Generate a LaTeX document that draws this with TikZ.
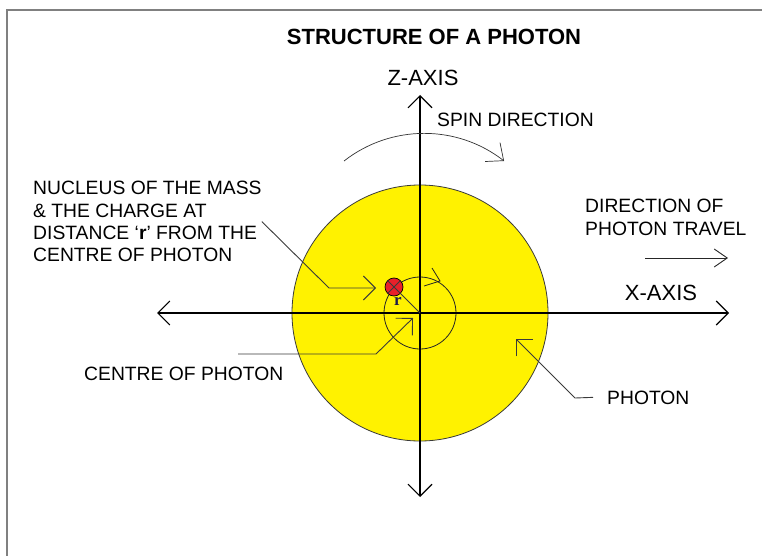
\documentclass[tikz,border=0pt]{standalone}
\usepackage{fontspec}
\setmainfont{Liberation Sans}
\newfontfamily\rfont{Liberation Serif}
\usetikzlibrary{arrows.meta}
\definecolor{photoncol}{HTML}{FFF200}
\definecolor{nuccol}{HTML}{E8202A}
\definecolor{framecol}{HTML}{808080}
\definecolor{leadcol}{HTML}{3A3A3A}
\definecolor{rcol}{HTML}{1C1C4C}

\begin{document}
\begin{tikzpicture}[x=1pt,y=-1pt,>={Straight Barb[length=12pt,width=24pt]},
  lbl/.style={inner sep=0pt,anchor=base west,font=\fontsize{19.3}{22.2}\selectfont},
  axislbl/.style={inner sep=0pt,anchor=base,font=\fontsize{22}{24}\selectfont},
  axis/.style={black,line width=1.1pt},
  lead/.style={leadcol,line width=0.9pt}]
  \useasboundingbox (0,0) rectangle (762,556);
  \draw[framecol,line width=2pt] (7,557) -- (7,10) -- (763,10);
  \node[anchor=base,inner sep=0pt,font=\bfseries\fontsize{22}{24}\selectfont] (title) at (434,45) {STRUCTURE OF A PHOTON};
  % photon body and orbit of the nucleus
  \node[circle,fill=photoncol,draw=leadcol,line width=0.8pt,minimum size=256pt,inner sep=0pt] (photon) at (420,313) {};
  \node[circle,draw=black!85,line width=0.8pt,minimum size=72pt,inner sep=0pt] (orbit) at (photon.center) {};
  \draw[black!85,line width=0.8pt] (432,268) -- (440,281) -- (424,286);
  % axes
  \coordinate (xl) at (157,313); \coordinate (xr) at (729,313);
  \coordinate (zt) at (420,95);  \coordinate (zb) at (420,497);
  \draw[axis,<->] (xl) -- (xr);
  \draw[axis,<->] (zt) -- (zb);
  \node[axislbl] (zlab) at (423,86) {Z-AXIS};
  \node[axislbl] (xlab) at (661,300) {X-AXIS};
  % nucleus at distance r
  \node[circle,fill=nuccol,draw=black,line width=0.7pt,minimum size=18pt,inner sep=0pt] (nuc) at (394,287) {};
  \draw[leadcol,line width=0.8pt] (photon.center) -- (nuc.north west);
  \draw[leadcol,line width=0.8pt] (nuc.south west) -- (nuc.north east);
  \node[text=rcol,inner sep=0pt,font=\rfont\bfseries\fontsize{17}{17}\selectfont] (rlab) at (398,301) {r};
  % spin
  \coordinate (spinstart) at (344,161);
  \draw[black!80,line width=0.7pt,-{Straight Barb[length=14pt,width=24pt]}] (spinstart) arc[start angle=128,end angle=52,radius=130pt];
  \node[lbl] (spinlab) at (437,127) {SPIN DIRECTION};
  % travel (base = last line)
  \node[lbl,align=left] (travlab) at (585,235) {DIRECTION OF\\PHOTON TRAVEL};
  \coordinate (tstart) at (645,258); \coordinate (ttip) at (728,258);
  \draw[black!85,line width=0.9pt,-{Straight Barb[length=13pt,width=18pt]}] (tstart) -- (ttip);
  % labels with leaders
  \node[lbl,align=left] (nuclab) at (33,261.5) {NUCLEUS OF THE MASS\\\& THE CHARGE AT\\DISTANCE `\textbf{r}' FROM THE\\CENTRE OF PHOTON};
  \coordinate (nbend) at (329,288); \coordinate (ntip) at (376,288);
  \draw[lead,->] (nuclab.east) -- (nbend) -- (ntip);
  \node[lbl] (centlab) at (84,380) {CENTRE OF PHOTON};
  \coordinate (cstart) at (238,354); \coordinate (cbend) at (376,354); \coordinate (ctip) at (413,318);
  \draw[lead,->] (cstart) -- (cbend) -- (ctip);
  \node[lbl] (photlab) at (607,404) {PHOTON};
  \coordinate (pbend) at (575,398); \coordinate (ptip) at (516,339);
  \draw[lead,->] (photlab.west) ++(-14,0) -- (pbend) -- (ptip);
\end{tikzpicture}
\end{document}
